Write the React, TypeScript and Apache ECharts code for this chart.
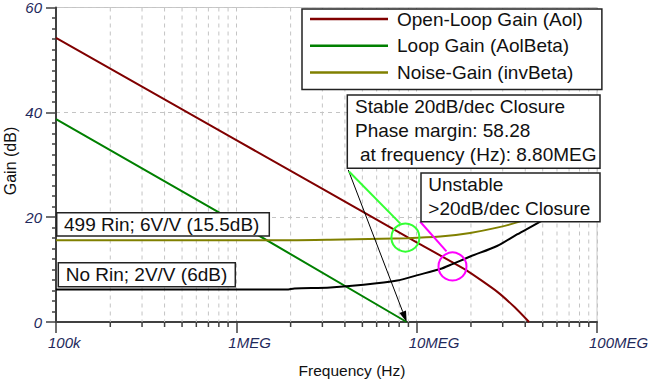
import React, { useEffect, useRef } from "react";
import * as echarts from "echarts";

const FONT = '"Liberation Sans", Arial, Helvetica, sans-serif';

const seriesNames = ["Open-Loop Gain (Aol)", "Loop Gain (AolBeta)", "Noise-Gain (invBeta)", "Noise-Gain (No Rin)"];

// Open-loop gain (dB) vs frequency (Hz)
const aolFreq = [1e5, 1e6, 1e7, 19e6, 27.9e6, 35e6, 42e6];
const aolGain = [54.2, 34.7, 15.2, 9.8, 5.8, 2.8, 0];

// Loop gain (dB)
const loopFreq = [1e5, 1e6, 8.8e6];
const loopGain = [38.7, 19.0, 0];

// Noise gain with 499 Rin (dB)
const noiseFreq = [1e5, 2e6, 3.32e6, 8.85e6, 13.5e6, 19.8e6, 27.9e6, 37.6e6, 45e6];
const noiseGain = [15.6, 15.6, 15.7, 16.0, 16.3, 17.0, 18.0, 19.2, 20.3];

// Noise gain without Rin (dB)
const noRinFreq = [1e5, 1.9e6, 2.1e6, 3.32e6, 5.08e6, 7.8e6, 10e6, 13.5e6, 15.9e6, 19.8e6, 27.9e6, 36e6, 50.4e6, 55e6];
const noRinGain = [6.2, 6.2, 6.4, 6.6, 7.1, 7.9, 8.9, 10.1, 11.1, 12.5, 14.5, 16.7, 19.5, 20.4];

const decadeValues = [1e5, 1e6, 1e7, 1e8];
const decadeLabels = ["100k", "1MEG", "10MEG", "100MEG"];
const decadeStarts = [1e5, 1e6, 1e7];
const minorMultipliers = [2, 3, 4, 5, 6, 7, 8, 9];

const stableMarker = [8.66e6, 16.1];
const unstableMarker = [15.8e6, 10.6];
const arrowTarget = [8.8e6, 0];

const AXIS_COLOR = "#404040";
const LABEL_COLOR = "#1f2a5c";
const GRID_COLOR = "#c4c4c4";

export default function App() {
  const ref = useRef<HTMLDivElement>(null);
  useEffect(() => {
    const chart = echarts.init(ref.current!, null, { renderer: "svg" });
    const zip = (xs: number[], ys: number[]) => xs.map((x, i) => [x, ys[i]]);
    const minorFreqs = decadeStarts.flatMap((d) => minorMultipliers.map((m) => [d * m, 0]));

    const lineSeries = (name: string, xs: number[], ys: number[], color: string, smooth: number) => ({
      type: "line",
      name,
      data: zip(xs, ys),
      symbol: "none",
      smooth,
      lineStyle: { color, width: 2 },
      itemStyle: { color },
      z: 3,
      clip: true,
    });

    const option: any = {
      animation: false,
      backgroundColor: "#fff",
      grid: {
        left: 56,
        top: 7,
        right: 53,
        bottom: 58,
        show: true,
        borderColor: "#c8c8c8",
        borderWidth: 1,
        backgroundColor: "#fff",
      },
      legend: {
        data: seriesNames.slice(0, 3),
        orient: "vertical",
        left: 302,
        top: 9,
        padding: [0, 19, 7, 8],
        itemGap: 6.7,
        itemWidth: 78,
        itemHeight: 2.5,
        icon: "rect",
        backgroundColor: "#fff",
        borderColor: "#222",
        borderWidth: 1.5,
        selectedMode: false,
        textStyle: { fontSize: 19, color: "#111", fontFamily: FONT, padding: [0, 0, 0, 4], lineHeight: 20 },
        z: 20,
      },
      xAxis: {
        type: "log",
        logBase: 10,
        min: 1e5,
        max: 1e8,
        name: "Frequency (Hz)",
        nameLocation: "middle",
        nameGap: 40,
        nameTextStyle: { fontSize: 15.5, color: "#111", fontFamily: FONT, padding: [0, 0, 0, 51] },
        axisLine: { onZero: false, lineStyle: { color: AXIS_COLOR, width: 2 } },
        axisTick: { show: true, length: 11, lineStyle: { color: AXIS_COLOR, width: 1.5 } },
        minorTick: { show: false },
        splitLine: { show: true, lineStyle: { color: GRID_COLOR, width: 1, type: [4, 4] } },
        axisLabel: { show: false },
      },
      yAxis: {
        type: "value",
        min: 0,
        max: 60,
        interval: 20,
        axisLine: { show: true, onZero: false, lineStyle: { color: AXIS_COLOR, width: 2 } },
        axisTick: { show: true, length: 10, lineStyle: { color: AXIS_COLOR, width: 1.5 } },
        minorTick: { show: true, splitNumber: 10, length: 4, lineStyle: { color: AXIS_COLOR, width: 1.5 } },
        splitLine: { show: true, lineStyle: { color: GRID_COLOR, width: 1, type: [4, 4] } },
        axisLabel: {
          fontSize: 15,
          fontStyle: "italic",
          color: LABEL_COLOR,
          fontFamily: FONT,
          margin: 14,
        },
      },
      series: [
        {
          type: "custom",
          name: "minor-grid",
          data: minorFreqs,
          silent: true,
          clip: false,
          z: 1,
          encode: { x: 0, y: 1 },
          renderItem: (params: any, api: any) => {
            const x = api.coord([api.value(0), 0])[0];
            const cs = params.coordSys;
            const top = cs.y;
            const bottom = cs.y + cs.height;
            return {
              type: "group",
              children: [
                {
                  type: "line",
                  shape: { x1: x, y1: top, x2: x, y2: bottom },
                  style: { stroke: GRID_COLOR, lineWidth: 1, lineDash: [4, 4] },
                },
                {
                  type: "line",
                  shape: { x1: x, y1: bottom, x2: x, y2: bottom + 5 },
                  style: { stroke: AXIS_COLOR, lineWidth: 1.5 },
                },
              ],
            };
          },
        },
        lineSeries(seriesNames[0], aolFreq, aolGain, "#800000", 0.15),
        lineSeries(seriesNames[1], loopFreq, loopGain, "#008000", 0),
        lineSeries(seriesNames[2], noiseFreq, noiseGain, "#808000", 0.3),
        lineSeries(seriesNames[3], noRinFreq, noRinGain, "#000000", 0.3),
      ],
    };
    chart.setOption(option);

    const px = (pt: number[]) => chart.convertToPixel({ gridIndex: 0 }, pt) as number[];
    const sc = px(stableMarker);
    const uc = px(unstableMarker);
    const at = px(arrowTarget);
    const R = 14;

    const box = (x: number, y: number, w: number, h: number) => ({
      type: "rect",
      shape: { x, y, width: w, height: h },
      style: { fill: "#fff", stroke: "#222", lineWidth: 1.5 },
      z: 100,
    });
    const txt = (text: string, x: number, y: number) => ({
      type: "text",
      x,
      y,
      style: { text, fill: "#111", fontSize: 19, fontFamily: FONT, verticalAlign: "middle", align: "left" },
      z: 101,
    });

    const ax0 = 348.3, ay0 = 170;
    const dx = at[0] - ax0, dy = at[1] - ay0;
    const len = Math.hypot(dx, dy);
    const ux = dx / len, uy = dy / len;
    const ah = 11, aw = 3.5;
    const bx = at[0] - ux * ah, by = at[1] - uy * ah;

    const xTickLabels = decadeValues.map((v, i) => {
      const p = px([v, 0]);
      return {
        type: "text",
        x: p[0] - 8,
        y: p[1] + 13,
        style: {
          text: decadeLabels[i],
          fill: LABEL_COLOR,
          fontSize: 15,
          fontStyle: "italic",
          fontFamily: FONT,
          align: "left",
          verticalAlign: "top",
        },
        z: 50,
      };
    });

    const graphic = [
      ...xTickLabels,
      {
        type: "text",
        x: 10,
        y: 161,
        rotation: Math.PI / 2,
        style: { text: "Gain (dB)", fill: "#111", fontSize: 16, fontFamily: FONT, align: "center", verticalAlign: "middle" },
        z: 50,
      },
      { type: "line", shape: { x1: ax0, y1: ay0, x2: bx, y2: by }, style: { stroke: "#000", lineWidth: 1 }, z: 90 },
      {
        type: "polygon",
        shape: {
          points: [
            [at[0], at[1]],
            [bx - uy * aw, by + ux * aw],
            [bx + uy * aw, by - ux * aw],
          ],
        },
        style: { fill: "#000" },
        z: 90,
      },
      { type: "line", shape: { x1: 349, y1: 171.5, x2: sc[0] - 5, y2: sc[1] - 14 }, style: { stroke: "#33ff33", lineWidth: 2 }, z: 91 },
      { type: "circle", shape: { cx: sc[0], cy: sc[1], r: R }, style: { fill: "none", stroke: "#33ff33", lineWidth: 2 }, z: 91 },
      { type: "line", shape: { x1: 420, y1: 221.5, x2: uc[0] - 6, y2: uc[1] - 15 }, style: { stroke: "#ff00ff", lineWidth: 2 }, z: 91 },
      { type: "circle", shape: { cx: uc[0], cy: uc[1], r: R }, style: { fill: "none", stroke: "#ff00ff", lineWidth: 2 }, z: 91 },

      box(347.3, 95, 252.7, 73.3),
      txt("Stable 20dB/dec Closure", 355, 106),
      txt("Phase margin: 58.28", 355, 130),
      txt("at frequency (Hz): 8.80MEG", 360, 154),

      box(421, 173, 179, 48.7),
      txt("Unstable", 428.3, 184.5),
      txt(">20dB/dec Closure", 428.3, 208.5),

      box(56.7, 212.7, 212.6, 23.3),
      txt("499 Rin; 6V/V (15.5dB)", 64, 224),

      box(58.3, 262.7, 177, 24),
      txt("No Rin; 2V/V (6dB)", 65.7, 274.5),
    ];
    chart.setOption({ graphic });

    return () => chart.dispose();
  }, []);
  return <div ref={ref} style={{ position: "fixed", left: 0, top: 0, width: 650, height: 383 }} />;
}
